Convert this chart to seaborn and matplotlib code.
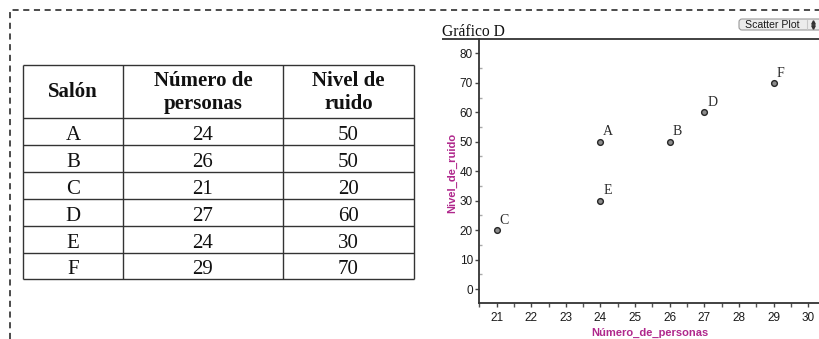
import matplotlib
matplotlib.use('Agg')
import matplotlib.pyplot as plt
import seaborn as sns
import pandas as pd
from matplotlib.patches import FancyBboxPatch

# ---------------- data ----------------
salones = ['A', 'B', 'C', 'D', 'E', 'F']
personas = [24, 26, 21, 27, 24, 29]
ruido = [50, 50, 20, 60, 30, 70]
x_ticks = [21, 22, 23, 24, 25, 26, 27, 28, 29, 30]
y_ticks = [0, 10, 20, 30, 40, 50, 60, 70, 80]
header = [['Salón'], ['Número de', 'personas'], ['Nivel de', 'ruido']]
title = 'Gráfico D'
x_label = 'Número_de_personas'
y_label = 'Nivel_de_ruido'
button_text = 'Scatter Plot'

df = pd.DataFrame({'Salon': salones, 'Numero_de_personas': personas, 'Nivel_de_ruido': ruido})

sns.set_theme(style='white')
plt.rcParams['font.family'] = ['DejaVu Sans']

W, H = 820, 339
fig = plt.figure(figsize=(W / 100, H / 100), dpi=100)
fig.patch.set_facecolor('white')

# overlay in pixel coordinates
ov = fig.add_axes([0, 0, 1, 1], zorder=0)
ov.set_xlim(0, W)
ov.set_ylim(H, 0)
ov.axis('off')

# dashed frame
ov.plot([10, 10, W], [H, 10, 10], ls=(0, (4, 3)), color='#1a1a1a', lw=1.1)

# ---------------- table ----------------
tbl_x = [23, 123, 283, 414]
tbl_y = [65, 118, 145, 172, 199, 226, 253, 279]
lc = '#333333'
for yy in tbl_y:
    ov.plot([tbl_x[0], tbl_x[-1]], [yy, yy], color=lc, lw=1.0, solid_capstyle='butt')
for xx in tbl_x:
    ov.plot([xx, xx], [tbl_y[0], tbl_y[-1]], color=lc, lw=1.0, solid_capstyle='butt')

serif = ['Liberation Serif', 'DejaVu Serif']
col_c = [(tbl_x[i] + tbl_x[i + 1]) / 2 for i in range(3)]
for ci, lines in enumerate(header):
    if len(lines) == 1:
        ov.text(col_c[ci], 97, lines[0], ha='center', va='baseline', fontsize=15,
                fontweight='bold', family=serif, color='#111')
    else:
        ov.text(col_c[ci], 86, lines[0], ha='center', va='baseline', fontsize=15,
                fontweight='bold', family=serif, color='#111')
        ov.text(col_c[ci], 109, lines[1], ha='center', va='baseline', fontsize=15,
                fontweight='bold', family=serif, color='#111')
for ri in range(len(salones)):
    base = tbl_y[ri + 2] - 5
    vals = [salones[ri], str(personas[ri]), str(ruido[ri])]
    for ci, v in enumerate(vals):
        ov.text(col_c[ci], base, v, ha='center', va='baseline', fontsize=15,
                family=serif, color='#111')

# ---------------- chart ----------------
ax_l, ax_r, ax_t, ax_b = 479.3, 820, 39, 303
ax = fig.add_axes([ax_l / W, (H - ax_b) / H, (ax_r - ax_l) / W, (ax_b - ax_t) / H], zorder=2)
ax.set_facecolor('none')

sns.scatterplot(data=df, x='Numero_de_personas', y='Nivel_de_ruido', ax=ax,
                s=17, color='#8c8c8c', edgecolor='#262626', linewidth=1.0, zorder=3)

for s, xv, yv in zip(salones, personas, ruido):
    ax.annotate(s, (xv, yv), xytext=(2.0, 2.4), textcoords='offset points',
                ha='left', va='bottom', fontsize=10, family=serif, color='#2a2a2a')

ax.set_xlim(20.51, 30.34)
ax.set_ylim(-4.75, 84.9)
ax.set_xticks(x_ticks)
ax.set_xticks([t + 0.5 for t in [20] + x_ticks[:-1]], minor=True)
ax.set_yticks(y_ticks)
ax.set_yticks([t + 5 for t in y_ticks[:-1]], minor=True)

tick_font = ['Liberation Sans', 'DejaVu Sans']
ax.tick_params(axis='both', which='both', bottom=True, left=True, top=False, right=False)
ax.tick_params(axis='both', which='major', direction='out', length=3, width=1,
               color='#444', labelsize=8.5, labelcolor='#1a1a1a', pad=1.5)
ax.tick_params(axis='x', which='major', pad=3.5)
ax.tick_params(axis='x', which='minor', direction='out', length=3, width=1, color='#555')
ax.tick_params(axis='y', which='minor', direction='in', length=2, width=1, color='#aaa')
for lab in ax.get_xticklabels() + ax.get_yticklabels():
    lab.set_family(tick_font)

for sp in ['top', 'right']:
    ax.spines[sp].set_visible(False)
for sp in ['left', 'bottom']:
    ax.spines[sp].set_color('#333')
    ax.spines[sp].set_linewidth(1.3)

mag = '#b0278c'
ax.set_xlabel(x_label, fontsize=8, fontweight='bold', color=mag, family=tick_font)
ax.set_ylabel(y_label, fontsize=8, fontweight='bold', color=mag, family=tick_font)
ax.xaxis.label.set_va('center')
ax.xaxis.set_label_coords(0.5, (ax_b - 333) / (ax_b - ax_t))
ax.yaxis.label.set_va('center')
ax.yaxis.set_label_coords((451.7 - ax_l) / (ax_r - ax_l), (ax_b - 172.5) / (ax_b - ax_t))

# title and underline
ov.text(442, 35.5, title, ha='left', va='baseline', fontsize=11.2, family=serif, color='#111')
ov.plot([442, W], [39, 39], color='#333', lw=1.3, solid_capstyle='butt')

# button
btn = FancyBboxPatch((739, 19), 90, 11, boxstyle='round,pad=0,rounding_size=3',
                     facecolor='#ececec', edgecolor='#9a9a9a', lw=0.8)
ov.add_patch(btn)
ov.plot([807, 807], [20, 29], color='#c8c8c8', lw=0.8)
ov.text(745.5, 24.8, button_text, ha='left', va='center', fontsize=7.6,
        family=tick_font, color='#1a1a1a')
ov.plot([813], [22.3], marker='^', ms=2.5, color='#333', lw=0)
ov.plot([813], [26.8], marker='v', ms=2.5, color='#333', lw=0)

fig.savefig('out.png', dpi=100)
